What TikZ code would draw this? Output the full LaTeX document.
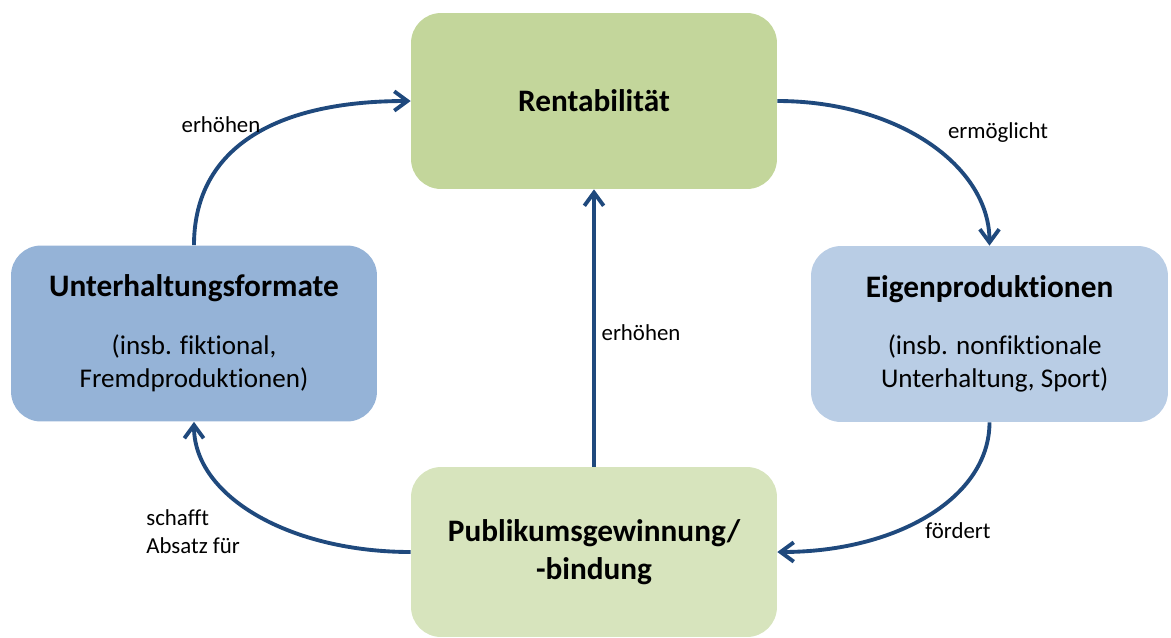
\documentclass[tikz,border=0pt]{standalone}
\usepackage{fontspec}
\setmainfont{Carlito}[Ligatures=NoCommon]
\usetikzlibrary{arrows.meta}

\definecolor{rentgreen}{HTML}{C3D69B}
\definecolor{publgreen}{HTML}{D7E4BD}
\definecolor{unterblue}{HTML}{95B3D7}
\definecolor{eigenblue}{HTML}{B9CDE5}
\definecolor{arrowblue}{HTML}{1F497D}

\begin{document}
\begin{tikzpicture}[
  x=0.02cm, y=0.02cm,
  box/.style={
    rounded corners=0.6cm,
    minimum width=7.32cm,
    minimum height=3.52cm,
    inner sep=0pt,
    align=center,
    font=\fontsize{15.4}{18.8}\selectfont
  },
  titlebox/.style={
    box,
    font=\bfseries\fontsize{17.8}{21.6}\selectfont
  },
  flow/.style={
    draw=arrowblue,
    line width=2.2pt,
    -{Straight Barb[length=7.5pt,width=11pt,line width=2.2pt]}
  },
  lbl/.style={font=\fontsize{13}{16}\selectfont, inner sep=0pt}
]
\useasboundingbox (0,0) rectangle (1171,-637);

% boxes
\node[titlebox, fill=rentgreen] (rent) at (594,-101) {Rentabilität};
\node[box, fill=unterblue] (unter) at (194,-333.5)
  {{\bfseries\fontsize{17.8}{21.6}\selectfont Unterhaltungsformate}\\[14pt]
   (insb. fiktional,\\Fremdproduktionen)};
\node[box, fill=eigenblue, minimum width=7.14cm] (eigen) at (989.5,-334)
  {{\bfseries\fontsize{17.8}{21.6}\selectfont Eigenproduktionen}\\[14pt]
   \hspace*{6pt}(insb. nonfiktionale\\\hspace*{6pt}Unterhaltung, Sport)};
\node[titlebox, fill=publgreen, minimum height=3.4cm] (publ) at (594,-552)
  {Publikumsgewinnung/\\-bindung};

% connectors
\draw[flow] (unter.north) .. controls +(0,90) and +(-146,0) .. (rent.west);
\draw[flow] (rent.east) .. controls +(120,0) and +(0,80) .. (eigen.north);
\draw[flow] (eigen.south) .. controls +(0,-75) and +(120,0) .. (publ.east);
\draw[flow] (publ.west) .. controls +(-120,0) and +(0,-75) .. (unter.south);
\draw[flow] (publ.north) -- (rent.south);

% labels
\node[lbl] (lblrise) at (221,-125) {erhöhen};
\node[lbl] (lblenable) at (998,-133) {ermöglicht};
\node[lbl] (lblfoster) at (958,-531) {fördert};
\node[lbl, align=left, anchor=west] (lblsales) at (146,-532) {schafft\\Absatz für};
\node[lbl] (lblmid) at (641,-333) {erhöhen};
\end{tikzpicture}
\end{document}
